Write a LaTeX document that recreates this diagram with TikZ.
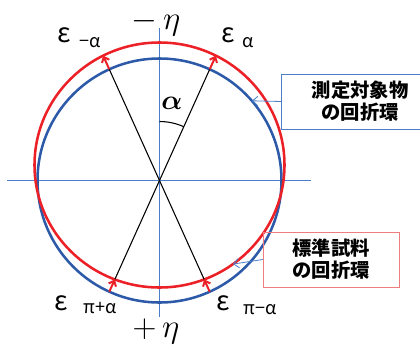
\documentclass[tikz,border=0pt]{standalone}
\usepackage{fontspec}
\usepackage{amsmath}
\newfontfamily\jafont{Noto Sans CJK JP}
\usetikzlibrary{positioning, calc, arrows.meta}
\definecolor{ringblue}{HTML}{2D5AA8}
\definecolor{ringred}{HTML}{EC2027}
\definecolor{axisblue}{HTML}{4A7EC8}
\definecolor{boxred}{HTML}{F07C80}
\begin{document}
\begin{tikzpicture}[x=0.75pt, y=0.75pt,
				axis/.style={draw=axisblue, line width=0.6pt},
				ring/.style={line width=1.9pt},
				ray/.style={draw=black, line width=0.8pt},
				ringshift/.style={->, draw=ringred, line width=1.5pt, >={Straight Barb[length=3.5pt, width=6pt]}},
				note/.style={draw, rectangle, align=center, font=\jafont\bfseries\fontsize{14.5}{16.5}\selectfont, inner sep=0pt, minimum height=41pt},
				pointer/.style={->, draw=axisblue, line width=0.6pt, >={Straight Barb[length=4pt, width=7pt]}},
				eps/.style={font=\jafont\fontsize{20}{20}\selectfont, inner sep=0pt},
				sub/.style={font=\jafont\fontsize{13.5}{13.5}\selectfont, inner sep=0pt},
				etalabel/.style={inner sep=0pt, font=\fontsize{24}{24}\selectfont},
			]
			\useasboundingbox (-159.5,-166.5) rectangle (260.5,180.5);

			% axes
			\coordinate (hl) at (-152.5,0);
			\coordinate (hr) at (151.5,0);
			\coordinate (vt) at (0,152.5);
			\coordinate (vb) at (0,-136.5);
			\draw[axis] (hl) -- (hr);
			\draw[axis] (vt) -- (vb);

			% rings
			\draw[ring, ringblue] (0,0) circle (122);
			\draw[ring, ringred] (0,15.5) ellipse (125 and 122.5);

			% points on the rings
			\coordinate (ba) at (65.7:122);
			\coordinate (bma) at (114.3:122);
			\coordinate (bpa) at (245.7:122);
			\coordinate (bpma) at (294.3:122);
			\coordinate (ra) at (65.7:137);
			\coordinate (rma) at (114.3:137);
			\coordinate (rpa) at (245.7:108.5);
			\coordinate (rpma) at (294.3:108.5);

			% rays through the centre
			\draw[ray] (rpa) -- (ba);
			\draw[ray] (rpma) -- (bma);

			% shifts from blue to red
			\draw[ringshift] (ba) -- (ra);
			\draw[ringshift] (bma) -- (rma);
			\draw[ringshift] (bpa) -- (rpa);
			\draw[ringshift] (bpma) -- (rpma);

			% angle
			\draw[line width=0.8pt] (90:59) arc (90:65.7:59);
			\node (alpha) at (12.5,77) {\huge$\boldsymbol{\alpha}$};

			% eta labels
			\node[etalabel] (meta) at (-3.5,157.5) {$-\,\eta$};
			\node[etalabel] (peta) at (-3.5,-151) {$+\,\eta$};

			% epsilon labels
			\node[eps] (e1) at (-95.5,145.5) {ε};
			\node[sub] (s1) at (-69.5,137.8) {−α};
			\node[eps] (e2) at (68.5,145.5) {ε};
			\node[sub] (s2) at (88.5,137.5) {α};
			\node[eps] (e3) at (-98.5,-122.5) {ε};
			\node[sub] (s3) at (-59.5,-127.5) {π+α};
			\node[eps] (e4) at (63.5,-122.5) {ε};
			\node[sub] (s4) at (100.5,-129.5) {π−α};

			% callouts
			\node[note, draw=axisblue, minimum width=118.5, text width=110] (target) at (200.75,79) {測定対象物\\の回折環};
			\node[note, draw=boxred, minimum width=102, text width=95] (standard) at (171.5,-79) {標準試料\\の回折環};
			\coordinate (tring) at (40.8:122);
			\coordinate (sring) at ([shift={(0,15.5)}]-54:125 and 122.5);
			\draw[pointer] (target.west) -- (tring);
			\draw[pointer] (standard.west) -- (sring);
		\end{tikzpicture}
\end{document}
